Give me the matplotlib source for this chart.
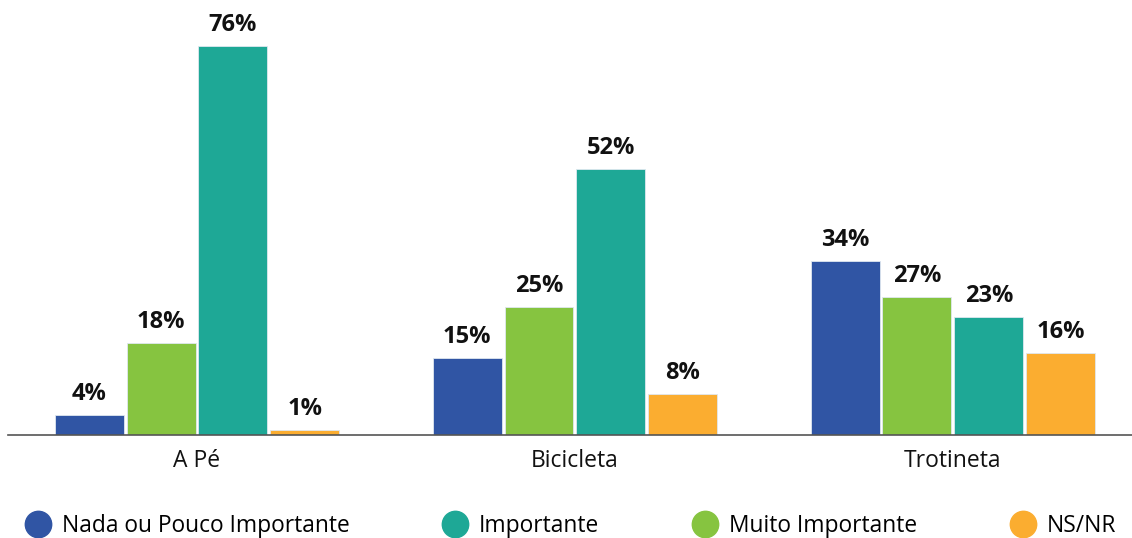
import matplotlib.pyplot as plt
from matplotlib.lines import Line2D
import numpy as np

plt.rcParams['font.family'] = ['Open Sans', 'DejaVu Sans']

categories = ['A Pé', 'Bicicleta', 'Trotineta']
# bar order inside each group
series = ['Nada ou Pouco Importante', 'Muito Importante', 'Importante', 'NS/NR']
values = {
    'Nada ou Pouco Importante': [4, 15, 34],
    'Muito Importante': [18, 25, 27],
    'Importante': [76, 52, 23],
    'NS/NR': [1, 8, 16],
}
colors = {
    'Nada ou Pouco Importante': '#3055a4',
    'Importante': '#1ea896',
    'Muito Importante': '#86c440',
    'NS/NR': '#fbad30',
}
legend_order = ['Nada ou Pouco Importante', 'Importante', 'Muito Importante', 'NS/NR']

fig = plt.figure(figsize=(11.32, 5.38), dpi=100)
ax = fig.add_axes([8 / 1132, 103 / 538, 1 - 8 / 1132, 410 / 538])

x = np.arange(len(categories))
width = 0.1825
step = 0.19
for i, s in enumerate(series):
    pos = x + (i - 1.5) * step
    bars = ax.bar(pos, values[s], width, color=colors[s], edgecolor='#dfe8f0', linewidth=0.6)
    for b, v in zip(bars, values[s]):
        ax.text(b.get_x() + b.get_width() / 2, v + 1.7, f'{v}%', ha='center', va='bottom',
                fontsize=17, fontweight='bold', color='#111111')

ax.set_xlim(-0.5, 2.474)
ax.set_ylim(0, 80)
ax.set_xticks(x)
ax.set_xticklabels(categories, fontsize=16.5, color='#111111')
ax.tick_params(axis='x', length=0, pad=10)
ax.set_yticks([])
for sp in ['top', 'right', 'left']:
    ax.spines[sp].set_visible(False)
ax.spines['bottom'].set_color('#555555')
ax.spines['bottom'].set_linewidth(1.2)

handles = [Line2D([], [], marker='o', linestyle='', markersize=19, color=colors[s]) for s in legend_order]
fig.legend(handles, legend_order, loc='center left', bbox_to_anchor=(24 / 1132, 12 / 538),
           ncol=4, frameon=False, fontsize=16.4, handletextpad=0.45, columnspacing=4.05,
           handlelength=1.2, borderpad=0, borderaxespad=0)

fig.savefig('out.png', dpi=100)
